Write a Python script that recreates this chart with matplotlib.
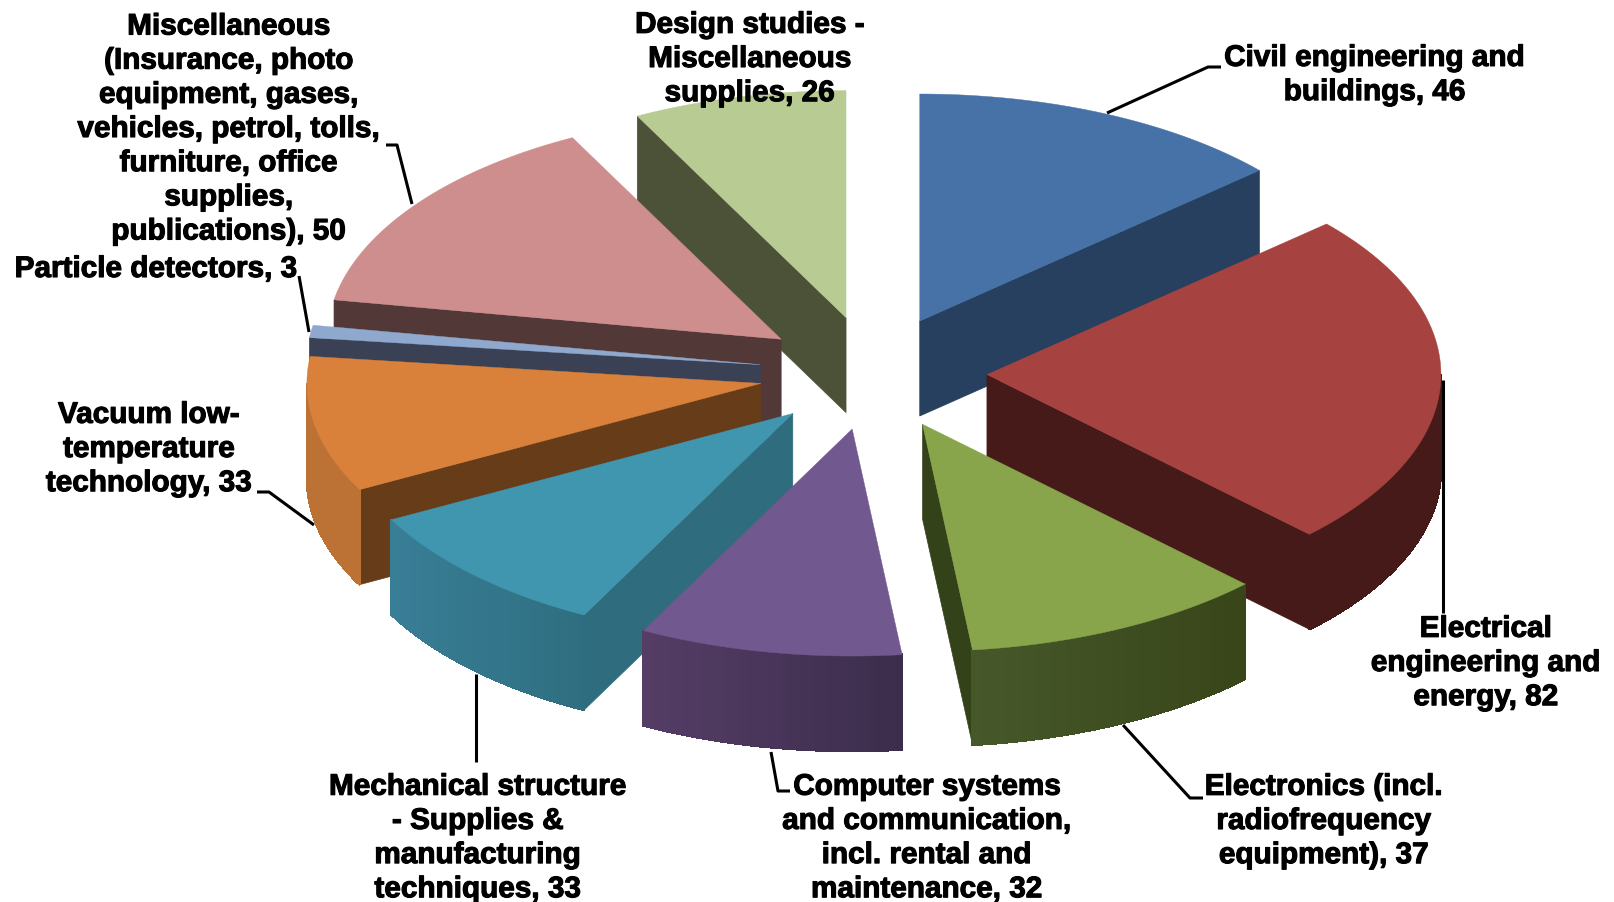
# 3D style exploded pie, spending per category
import matplotlib
matplotlib.use('Agg')
import matplotlib.pyplot as plt
import matplotlib.patheffects as pe
import matplotlib.colors as mc
import numpy as np

labels = ['Civil engineering and\nbuildings',
          'Electrical\nengineering and\nenergy',
          'Electronics (incl.\nradiofrequency\nequipment)',
          'Computer systems\nand communication,\nincl. rental and\nmaintenance',
          'Mechanical structure\n- Supplies &\nmanufacturing\ntechniques',
          'Vacuum low-\ntemperature\ntechnology',
          'Particle detectors',
          'Miscellaneous\n(Insurance, photo\nequipment, gases,\nvehicles, petrol, tolls,\nfurniture, office\nsupplies,\npublications)',
          'Design studies -\nMiscellaneous\nsupplies']
values = [46, 82, 37, 32, 33, 33, 3, 50, 26]

top_colors = ['#4672A8', '#A64340', '#88A54C', '#71588F', '#4095AF', '#D9803A', '#8FA8CE', '#CE8E8E', '#B8CB92']
wall_colors = ['#27405F', '#451A18', '#34421A', '#3C2E4E', '#2F6C7E', '#663C19', '#3A4155', '#533838', '#4C5238']
rim_left = ['#27405F', '#451A18', '#46582A', '#553D66', '#387E96', '#BD7235', '#3A4155', '#533838', '#4C5238']
rim_right = ['#27405F', '#451A18', '#384519', '#3B2D4C', '#2F6E80', '#BD7235', '#3A4155', '#533838', '#4C5238']

# layout of the pie in pixels
cx, cy = 873, 374
radius = 454
squash = 0.5
explode = 114
depth = 95
draw_order = [8, 0, 7, 1, 6, 5, 4, 2, 3]

label_pos = [(1375, 76), (1486, 664), (1324, 822), (927, 839), (478, 839),
             (149, 450), (156, 270), (229, 130), (750, 60)]
leaders = [[(1107, 114), (1208, 68), (1221, 68)],
           [(1443, 381), (1443, 614)],
           [(1123, 726), (1190, 799), (1203, 799)],
           [(771, 753), (778, 792), (790, 792)],
           [(476, 675), (476, 763)],
           [(314, 526), (269, 493), (257, 493)],
           [(309, 333), (299, 277)],
           [(412, 205), (397, 146), (386, 146)]]

fig = plt.figure(figsize=(16.14, 9.03), dpi=100)
ax = fig.add_axes([0, 0, 1, 1])
ax.set_xlim(0, 1614)
ax.set_ylim(903, 0)
ax.axis('off')

edges = np.cumsum([0] + values) / sum(values) * 2 * np.pi


def point(ax0, ay0, th, dz=0):
    return ax0 + radius * np.sin(th), ay0 - radius * squash * np.cos(th) + dz


for i in draw_order:
    t0, t1 = edges[i], edges[i + 1]
    mid = (t0 + t1) / 2
    ox = cx + explode * np.sin(mid)
    oy = cy - explode * squash * np.cos(mid)

    # radial walls facing the viewer
    if t0 > np.pi:
        x, y = point(ox, oy, t0)
        ax.fill([ox, x, x, ox], [oy, y, y + depth, oy + depth], color=wall_colors[i], lw=0.5)
    if t1 < np.pi:
        x, y = point(ox, oy, t1)
        ax.fill([ox, x, x, ox], [oy, y, y + depth, oy + depth], color=wall_colors[i], lw=0.5)

    # outer rim, only the front half shows
    a0, a1 = max(t0, np.pi / 2), min(t1, 3 * np.pi / 2)
    if a1 > a0:
        steps = np.linspace(a0, a1, 40)
        c_l = np.array(mc.to_rgb(rim_left[i]))
        c_r = np.array(mc.to_rgb(rim_right[i]))
        for s0, s1 in zip(steps[:-1], steps[1:]):
            x0, y0 = point(ox, oy, s0)
            x1, y1 = point(ox, oy, s1)
            f = (ox + radius * np.sin((s0 + s1) / 2))
            lo = ox + radius * min(np.sin(a0), np.sin(a1))
            hi = ox + radius * max(np.sin(a0), np.sin(a1))
            f = (f - lo) / max(hi - lo, 1)
            col = c_l + (c_r - c_l) * f
            ax.fill([x0, x1, x1, x0], [y0, y1, y1 + depth, y0 + depth], color=col, lw=1, antialiased=False)

    # top face
    th = np.linspace(t0, t1, 80)
    xs, ys = point(ox, oy, th)
    ax.fill(np.r_[ox, xs], np.r_[oy, ys], color=top_colors[i], lw=0.3)

for line in leaders:
    ax.plot([p[0] for p in line], [p[1] for p in line], color='black', lw=2.2, solid_capstyle='butt')

for name, v, pos in zip(labels, values, label_pos):
    ax.text(pos[0], pos[1], '%s, %d' % (name, v), ha='center', va='center', multialignment='center',
            family='Liberation Sans', weight='bold', fontsize=21.4, linespacing=1.28, color='black',
            path_effects=[pe.withStroke(linewidth=0.8, foreground='black')])

fig.savefig('out.png', dpi=100)
